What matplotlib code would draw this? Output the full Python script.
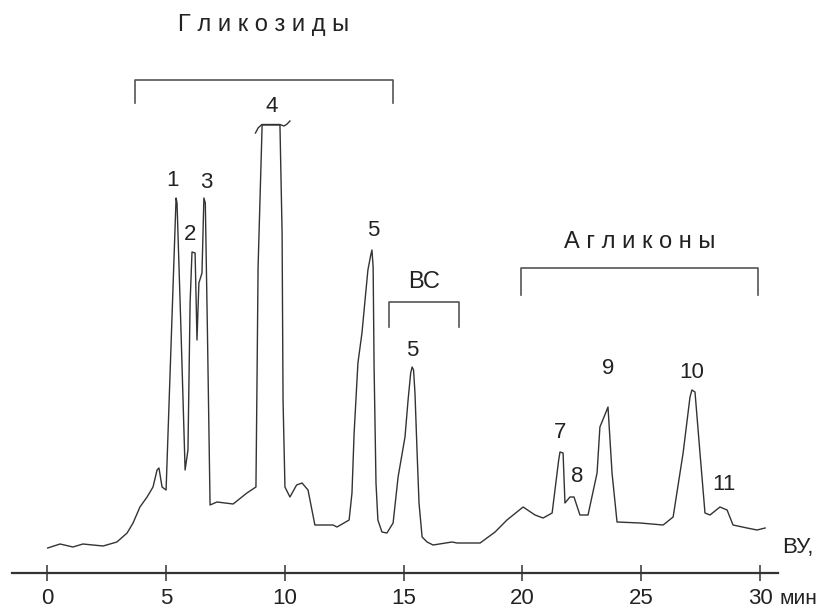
import numpy as np
import matplotlib.pyplot as plt

plt.rcParams['font.family'] = ['Liberation Sans', 'DejaVu Sans']

# retention time, min
t = [0.03, 0.55, 1.09, 1.51, 2.36, 2.94, 3.37, 3.62, 3.91, 4.21, 4.46, 4.63, 4.71, 4.84, 5.01,
     5.43, 5.47, 5.64, 5.81, 5.93, 6.02, 6.10, 6.23, 6.31, 6.39, 6.52, 6.60, 6.66, 6.75, 6.86,
     7.15, 7.83, 8.41, 8.79, 8.83, 8.88, 9.05, 9.80, 9.89, 9.93, 10.01,
     10.22, 10.50, 10.73, 10.98, 11.27, 12.03, 12.20, 12.71, 12.83, 12.92, 13.08, 13.25, 13.38, 13.50,
     13.62, 13.67, 13.72, 13.76, 13.84, 13.92, 14.09, 14.30, 14.56, 14.77, 15.06, 15.19, 15.30, 15.36,
     15.42, 15.48, 15.57, 15.65, 15.78, 15.99, 16.24, 17.04, 17.25, 18.22, 18.85, 19.35, 20.03, 20.53,
     20.87, 21.25, 21.52, 21.58, 21.71, 21.79, 22.00, 22.17, 22.42, 22.76, 23.14, 23.26, 23.50, 23.60,
     23.77, 23.98, 24.95, 25.92, 26.34, 26.76, 27.05, 27.13, 27.26, 27.47, 27.68, 27.89, 28.31, 28.61,
     28.86, 29.45, 29.87, 30.21]
signal = [25, 29, 26, 29, 27, 31, 40, 50, 66, 76, 86, 103, 105, 86, 83,
          375, 370, 240, 103, 123, 270, 321, 320, 233, 290, 300, 375, 370, 240, 68,
          71, 69, 80, 86, 180, 306, 448, 448, 340, 173, 86,
          76, 88, 90, 83, 48, 48, 46, 53, 80, 140, 210, 240, 273, 303,
          318, 323, 306, 206, 90, 53, 41, 40, 50, 96, 136, 173, 200, 206,
          203, 180, 120, 70, 36, 31, 28, 31, 30, 30, 41, 53, 66, 58,
          55, 60, 112, 121, 120, 70, 76, 76, 58, 58, 100, 146, 160, 166,
          100, 51, 50, 48, 56, 120, 176, 183, 181, 120, 60, 58, 66, 63,
          48, 45, 43, 45]

peak_labels = ['1', '2', '3', '4', '5', '5', '7', '8', '9', '10', '11']
label_t = [5.26, 6.02, 6.69, 9.47, 13.71, 15.36, 21.58, 22.30, 23.60, 27.13, 28.48]
label_y = [393, 338, 391, 466, 343, 223, 141, 97, 204, 201, 89]

# groups: name, start, end, bracket height, leg bottom, text height
groups = ['Г л и к о з и д ы', 'ВС', 'А г л и к о н ы']
group_start = [3.70, 14.40, 19.94]
group_end = [14.56, 17.33, 29.90]
group_top = [493, 271, 305]
group_leg = [470, 246, 278]
group_text_y = [548, 291, 331]

xticks = [0, 5, 10, 15, 20, 25, 30]

# broken top of peak 4
cap_t = [8.77, 8.88, 9.04, 9.80, 9.97, 10.10, 10.22]
cap_y = [440, 445, 448.5, 448.5, 447, 449, 452]

fig = plt.figure(figsize=(8.4, 6.08), dpi=100)
ax = fig.add_axes([0, 0, 1, 1])
ax.set_xlim(-1.977, 33.36)
ax.set_ylim(-35, 573)

ax.plot(t, signal, color='#333333', lw=1.0)
ax.plot(cap_t, cap_y, color='#333333', lw=1.0)

for lab, x, y in zip(peak_labels, label_t, label_y):
    ax.text(x, y, lab, ha='center', va='center', fontsize=16, color='#222222')

for name, a, b, top, leg, ty in zip(groups, group_start, group_end, group_top, group_leg, group_text_y):
    ax.plot([a, a, b, b], [leg, top, top, leg], color='#555555', lw=1.2)
    ax.text((a + b) / 2, ty, name, ha='center', va='center', fontsize=17, color='#222222')

for s in ['top', 'right', 'left']:
    ax.spines[s].set_visible(False)
ax.spines['bottom'].set_position(('data', 0))
ax.spines['bottom'].set_bounds(-1.47, 30.75)
ax.spines['bottom'].set_linewidth(1.6)
ax.spines['bottom'].set_color('#333333')
ax.set_yticks([])
ax.set_xticks(xticks)
ax.tick_params(axis='x', direction='inout', length=12, width=1.1, color='#333333',
               labelsize=16, pad=5, labelcolor='#222222')

ax.text(30.92, 26, 'ВУ,', ha='left', va='center', fontsize=16, color='#222222')
ax.text(30.80, -25, 'мин', ha='left', va='center', fontsize=15, color='#222222')

fig.savefig('out.png', dpi=100)
